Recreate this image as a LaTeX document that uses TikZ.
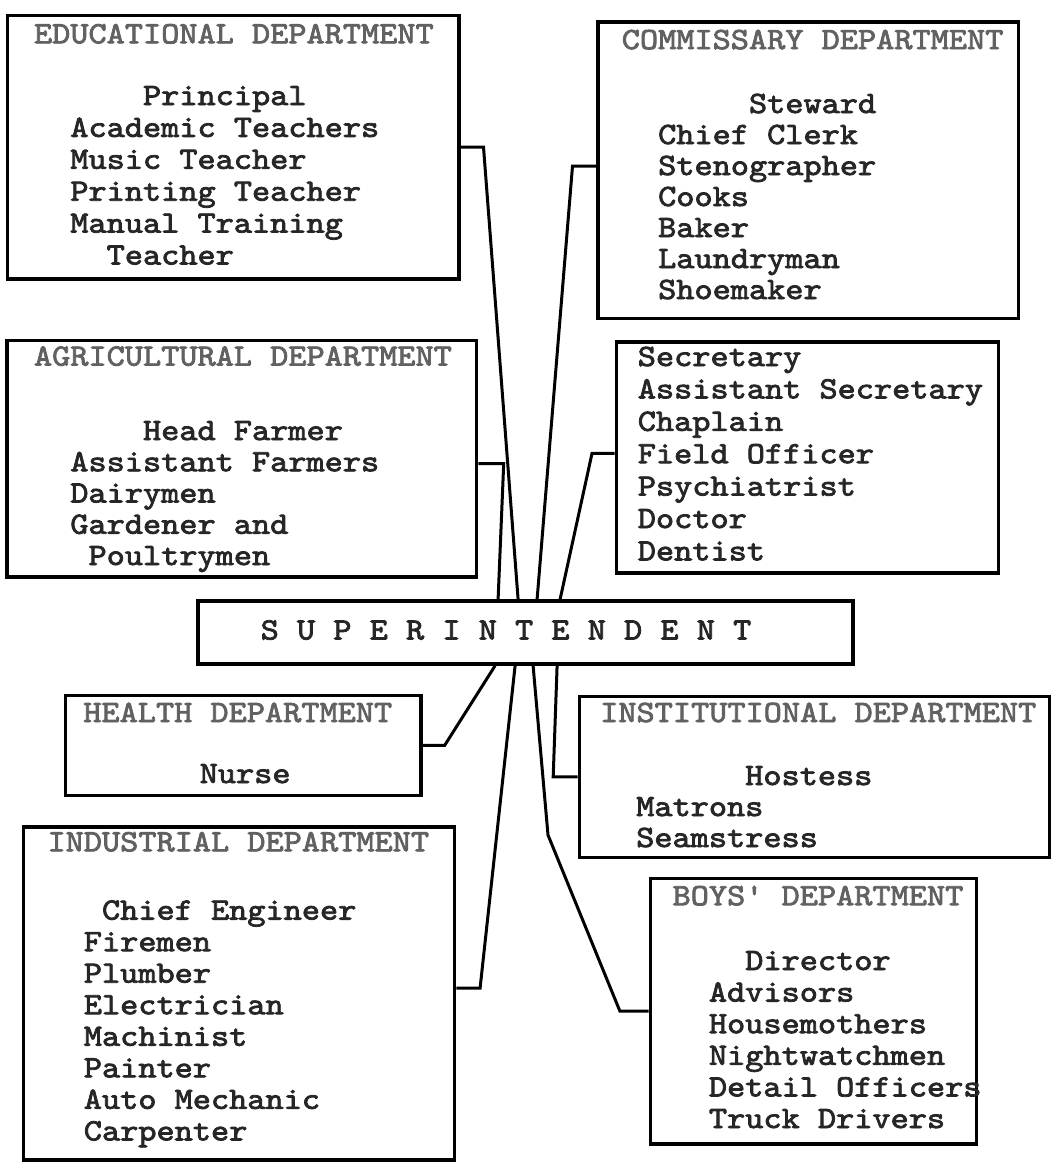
\documentclass[tikz,border=0pt]{standalone}
\usepackage{fontspec}
\newfontfamily\tw{lmmono10-regular}[Extension=.otf, FakeBold=2.5, FakeStretch=1.1165]
\usetikzlibrary{fit,calc}
\begin{document}
\begin{tikzpicture}[x=1pt,y=-1pt,
  box/.style={draw=black, line width=3.4pt, inner sep=0pt},
  link/.style={draw=black, line width=3pt, line join=miter},
  base/.style={anchor=base west, inner sep=0pt, text height=19pt, text depth=3pt,
    font=\fontsize{31}{32}\selectfont\tw},
  hd/.style={base, text=black!62},
  tx/.style={base, text=black!85}]
\useasboundingbox (0,0) rectangle (1051,1163);
\fill[white] (0,0) rectangle (1051,1163);
\def\cw{18.17}

% boxes
\node[box, fit={(7.4,15.2)(458.8,278.9)}] (edu) {};
\node[box, fit={(6.8,340.3)(476.7,577)}] (agri) {};
\node[box, fit={(597.9,22)(1018.5,318.3)}] (comm) {};
\node[box, fit={(616.3,342)(998.4,572.9)}] (sec) {};
\node[box, fit={(197.8,601)(853,664)}] (sup) {};
\node[box, fit={(65.2,695.2)(420.9,795.7)}] (health) {};
\node[box, fit={(23.7,827)(454.7,1160)}] (ind) {};
\node[box, fit={(579.3,696.2)(1050,857.3)}] (inst) {};
\node[box, fit={(650.4,878.3)(976.5,1144)}] (boys) {};

% connectors
\draw[link] (edu.east) -- ++(23,0) -- ($(sup.north west)+(322,0)$);
\draw[link] ([yshift=-5pt]agri.east) -- ++(25.3,0) -- ($(sup.north west)+(302,0)$);
\draw[link] ([yshift=4pt]comm.west) -- ++(-23.7,0) -- ($(sup.north west)+(341,0)$);
\draw[link] ([yshift=4pt]sec.west) -- ++(-22.6,0) -- ($(sup.north west)+(364,0)$);
\draw[link] (health.east) -- ++(22,0) -- ($(sup.south west)+(299,0)$);
\draw[link] ([yshift=5.5pt]ind.east) -- ++(23.7,0) -- ($(sup.south west)+(319,0)$);
\draw[link] (inst.west) -- ++(-24.4,0) -- ($(sup.south west)+(361,0)$);
\coordinate (bk) at (548,835);
\draw[link] (boys.west) -- ++(-28.8,0) -- (bk) -- ($(sup.south west)+(337,0)$);

% superintendent
\node[tx, anchor=base] (supt) at (506,639.5) {S U P E R I N T E N D E N T};

% educational
\node[hd] (edu-h) at (33.8,43.3) {EDUCATIONAL DEPARTMENT};
\foreach \c/\t [count=\i] in {6/Principal, 2/Academic Teachers, 2/Music Teacher, 2/Printing Teacher, 2/Manual Training, 4/Teacher}
  \node[tx] (edu-\i) at ({33.8+\c*\cw},{105+(\i-1)*31.9}) {\t};

% agricultural
\node[hd] (agri-h) at (33.8,365.6) {AGRICULTURAL DEPARTMENT};
\foreach \c/\t [count=\i] in {6/Head Farmer, 2/Assistant Farmers, 2/Dairymen, 2/Gardener and, 3/Poultrymen}
  \node[tx] (agri-\i) at ({33.8+\c*\cw},{440+(\i-1)*31.25}) {\t};

% commissary
\node[hd] (comm-h) at (621.6,49.1) {COMMISSARY DEPARTMENT};
\foreach \c/\t [count=\i] in {7/Steward, 2/Chief Clerk, 2/Stenographer, 2/Cooks, 2/Baker, 2/Laundryman, 2/Shoemaker}
  \node[tx] (comm-\i) at ({621.6+\c*\cw},{113+(\i-1)*31}) {\t};

% secretary etc.
\foreach \t [count=\i] in {Secretary, Assistant Secretary, Chaplain, Field Officer, Psychiatrist, Doctor, Dentist}
  \node[tx] (sec-\i) at (637.6,{366+(\i-1)*32.4}) {\t};

% health
\node[hd] (health-h) at (83.1,722) {HEALTH DEPARTMENT};
\node[tx] (health-1) at (199.5,783) {Nurse};

% industrial
\node[hd] (ind-h) at (47.3,851.3) {INDUSTRIAL DEPARTMENT};
\foreach \c/\t [count=\i] in {3/Chief Engineer, 2/Firemen, 2/Plumber, 2/Electrician, 2/Machinist, 2/Painter, 2/Auto Mechanic, 2/Carpenter}
  \node[tx] (ind-\i) at ({47.3+\c*\cw},{919.6+(\i-1)*31.54}) {\t};

% institutional
\node[hd] (inst-h) at (600,722) {INSTITUTIONAL DEPARTMENT};
\node[tx] (inst-1) at (745,785) {Hostess};
\node[tx] (inst-2) at (636,816) {Matrons};
\node[tx] (inst-3) at (636,847) {Seamstress};

% boys
\node[hd] (boys-h) at (672.4,905.2) {BOYS' DEPARTMENT};
\foreach \c/\t [count=\i] in {4/Director, 2/Advisors, 2/Housemothers, 2/Nightwatchmen, 2/Detail Officers, 2/Truck Drivers}
  \node[tx] (boys-\i) at ({672.4+\c*\cw},{970+(\i-1)*31.6}) {\t};
\end{tikzpicture}
\end{document}
